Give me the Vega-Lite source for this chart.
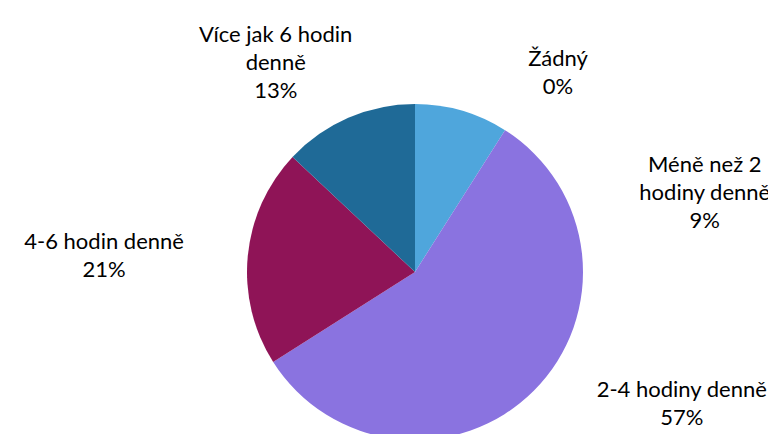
{
  "$schema": "https://vega.github.io/schema/vega-lite/v6.json",
  "width": 706,
  "height": 324,
  "autosize": {"type": "none"},
  "padding": {"left": 62, "top": 110, "right": 0, "bottom": 0},
  "background": "white",
  "config": {"view": {"stroke": null}, "text": {"font": "Lato", "fontSize": 22, "color": "#000000", "lineBreak": "|", "lineHeight": 28, "align": "center", "baseline": "middle"}},
  "data": {
    "values": [
      {"kategorie": "Žádný", "radky": "Žádný", "procent": 0},
      {"kategorie": "Méně než 2 hodiny denně", "radky": "Méně než 2|hodiny denně", "procent": 9},
      {"kategorie": "2-4 hodiny denně", "radky": "2-4 hodiny denně", "procent": 57},
      {"kategorie": "4-6 hodin denně", "radky": "4-6 hodin denně", "procent": 21},
      {"kategorie": "Více jak 6 hodin denně", "radky": "Více jak 6 hodin|denně", "procent": 13}
    ]
  },
  "transform": [
    {"calculate": "indexof(['Žádný','Méně než 2 hodiny denně','2-4 hodiny denně','4-6 hodin denně','Více jak 6 hodin denně'], datum.kategorie)", "as": "poradi"},
    {"stack": "procent", "groupby": [], "sort": [{"field": "poradi", "order": "ascending"}], "as": ["t0", "t1"]},
    {"calculate": "(datum.t0 + datum.t1) / 2", "as": "stred"},
    {"calculate": "datum.radky + '|' + datum.procent + '%'", "as": "stitek"}
  ],
  "layer": [
    {
      "mark": {"type": "arc", "outerRadius": 168},
      "encoding": {
        "theta": {"field": "t0", "type": "quantitative", "stack": null, "scale": {"domain": [0, 100]}},
        "theta2": {"field": "t1"},
        "color": {
          "field": "kategorie",
          "type": "nominal",
          "scale": {
            "domain": ["Žádný", "Méně než 2 hodiny denně", "2-4 hodiny denně", "4-6 hodin denně", "Více jak 6 hodin denně"],
            "range": ["#4472C4", "#4FA6DC", "#8A73E0", "#8F1457", "#1F6A97"]
          },
          "legend": null
        }
      }
    },
    {
      "transform": [{"filter": "datum.kategorie === 'Žádný'"}],
      "mark": {"type": "text", "radius": 250, "dx": 143, "dy": 37},
      "encoding": {"theta": {"field": "stred", "type": "quantitative", "stack": null}, "text": {"field": "stitek"}}
    },
    {
      "transform": [{"filter": "datum.kategorie === 'Méně než 2 hodiny denně'"}],
      "mark": {"type": "text", "radius": 250, "dx": 220, "dy": 133},
      "encoding": {"theta": {"field": "stred", "type": "quantitative", "stack": null}, "text": {"field": "stitek"}}
    },
    {
      "transform": [{"filter": "datum.kategorie === '2-4 hodiny denně'"}],
      "mark": {"type": "text", "radius": 250, "dx": 90, "dy": -59},
      "encoding": {"theta": {"field": "stred", "type": "quantitative", "stack": null}, "text": {"field": "stitek"}}
    },
    {
      "transform": [{"filter": "datum.kategorie === '4-6 hodin denně'"}],
      "mark": {"type": "text", "radius": 250, "dx": -62, "dy": -6},
      "encoding": {"theta": {"field": "stred", "type": "quantitative", "stack": null}, "text": {"field": "stitek"}}
    },
    {
      "transform": [{"filter": "datum.kategorie === 'Více jak 6 hodin denně'"}],
      "mark": {"type": "text", "radius": 250, "dx": -40, "dy": -8},
      "encoding": {"theta": {"field": "stred", "type": "quantitative", "stack": null}, "text": {"field": "stitek"}}
    }
  ]
}
